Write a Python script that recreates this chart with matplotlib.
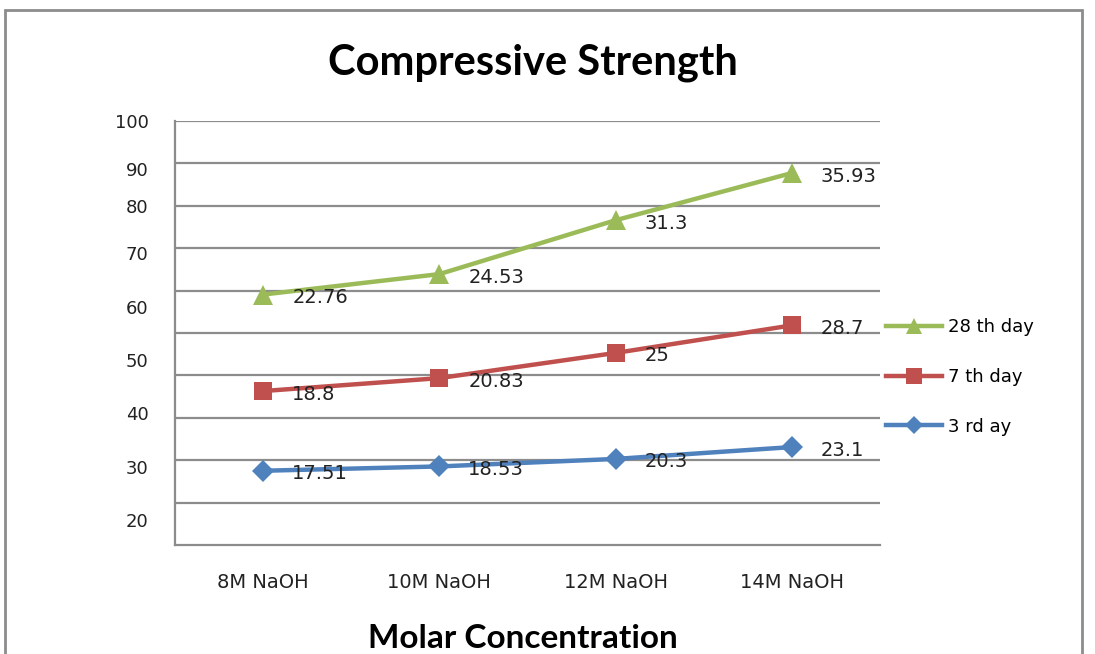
import numpy as np
import matplotlib
matplotlib.use("Agg")
import matplotlib.pyplot as plt
from matplotlib.patches import Rectangle

categories = ["8M NaOH", "10M NaOH", "12M NaOH", "14M NaOH"]
day3 = [17.51, 18.53, 20.3, 23.1]
day7 = [18.8, 20.83, 25, 28.7]
day28 = [22.76, 24.53, 31.3, 35.93]
series_names = ["3 rd ay", "7 th day", "28 th day"]
ytick_labels = ["100", "90", "80", "70", "60", "50", "40", "30", "20"]
ytick_pos = [100.0, 88.7, 80.0, 68.9, 56.1, 43.6, 31.1, 18.4, 5.9]
grid_levels = list(range(10, 101, 10))

colors = ["#4F81BD", "#C0504D", "#9BBB59"]
markers = ["D", "s", "^"]
msizes = [11, 13, 14]

fig = plt.figure(figsize=(10.95, 6.54), dpi=100)
ax = fig.add_axes([175/1095, 1-545/654, (880-175)/1095, (545-121)/654])

x = np.arange(len(categories))
vals = [np.array(day3), np.array(day7), np.array(day28)]
cum = np.cumsum(np.vstack(vals), axis=0)

lines = []
for i in range(3):
    ln, = ax.plot(x, cum[i], color=colors[i], lw=3.2, marker=markers[i],
                  markersize=msizes[i], markeredgewidth=0, label=series_names[i],
                  zorder=3, clip_on=False)
    lines.append(ln)
    for xi, yi, v in zip(x, cum[i], vals[i]):
        ax.annotate(f"{v:g}", (xi, yi), xytext=(29, -3), textcoords="offset pixels",
                    ha="left", va="center", fontsize=14, family="DejaVu Sans",
                    color="#222222", zorder=4)

ax.set_xlim(-0.5, 3.5)
ax.set_ylim(0, 100)
ax.set_xticks(x)
ax.set_xticklabels(categories, fontsize=14, family="DejaVu Sans", color="#222222")
ax.tick_params(axis="x", length=0, pad=20)

ax.yaxis.remove_overlapping_locs = False
ax.set_yticks(ytick_pos)
ax.set_yticklabels(ytick_labels, fontsize=13, family="DejaVu Sans", color="#222222")
ax.tick_params(axis="y", length=0, pad=19)

ax.set_yticks(grid_levels, minor=True)
ax.tick_params(axis="y", which="minor", length=0)
ax.grid(axis="y", which="minor", color="#8c8c8c", lw=1.6)
ax.grid(axis="y", which="major", visible=False)
ax.set_axisbelow(True)

for s in ["top", "right"]:
    ax.spines[s].set_visible(False)
for s in ["left", "bottom"]:
    ax.spines[s].set_color("#8c8c8c")
    ax.spines[s].set_linewidth(1.6)

fig.text(533/1095, 1-63/654, "Compressive Strength", ha="center", va="center",
         fontsize=30, fontweight="bold", family="Lato")
fig.text(523/1095, 1-638/654, "Molar Concentration", ha="center", va="center",
         fontsize=24, fontweight="bold", family="Lato")

handles = lines[::-1]
leg = fig.legend(handles, [h.get_label() for h in handles], loc="center left",
                 bbox_to_anchor=(870/1095, 1-377/654), frameon=False,
                 handlelength=3.1, labelspacing=1.75, handletextpad=0.3,
                 prop={"family": "DejaVu Sans", "size": 13}, markerscale=0.85)

fig.patches.append(Rectangle((5/1095, -0.05), (1082-5)/1095, 1.05-10/654,
                             transform=fig.transFigure, fill=False,
                             edgecolor="#8c8c8c", lw=2))

fig.savefig("out.png", dpi=100)
